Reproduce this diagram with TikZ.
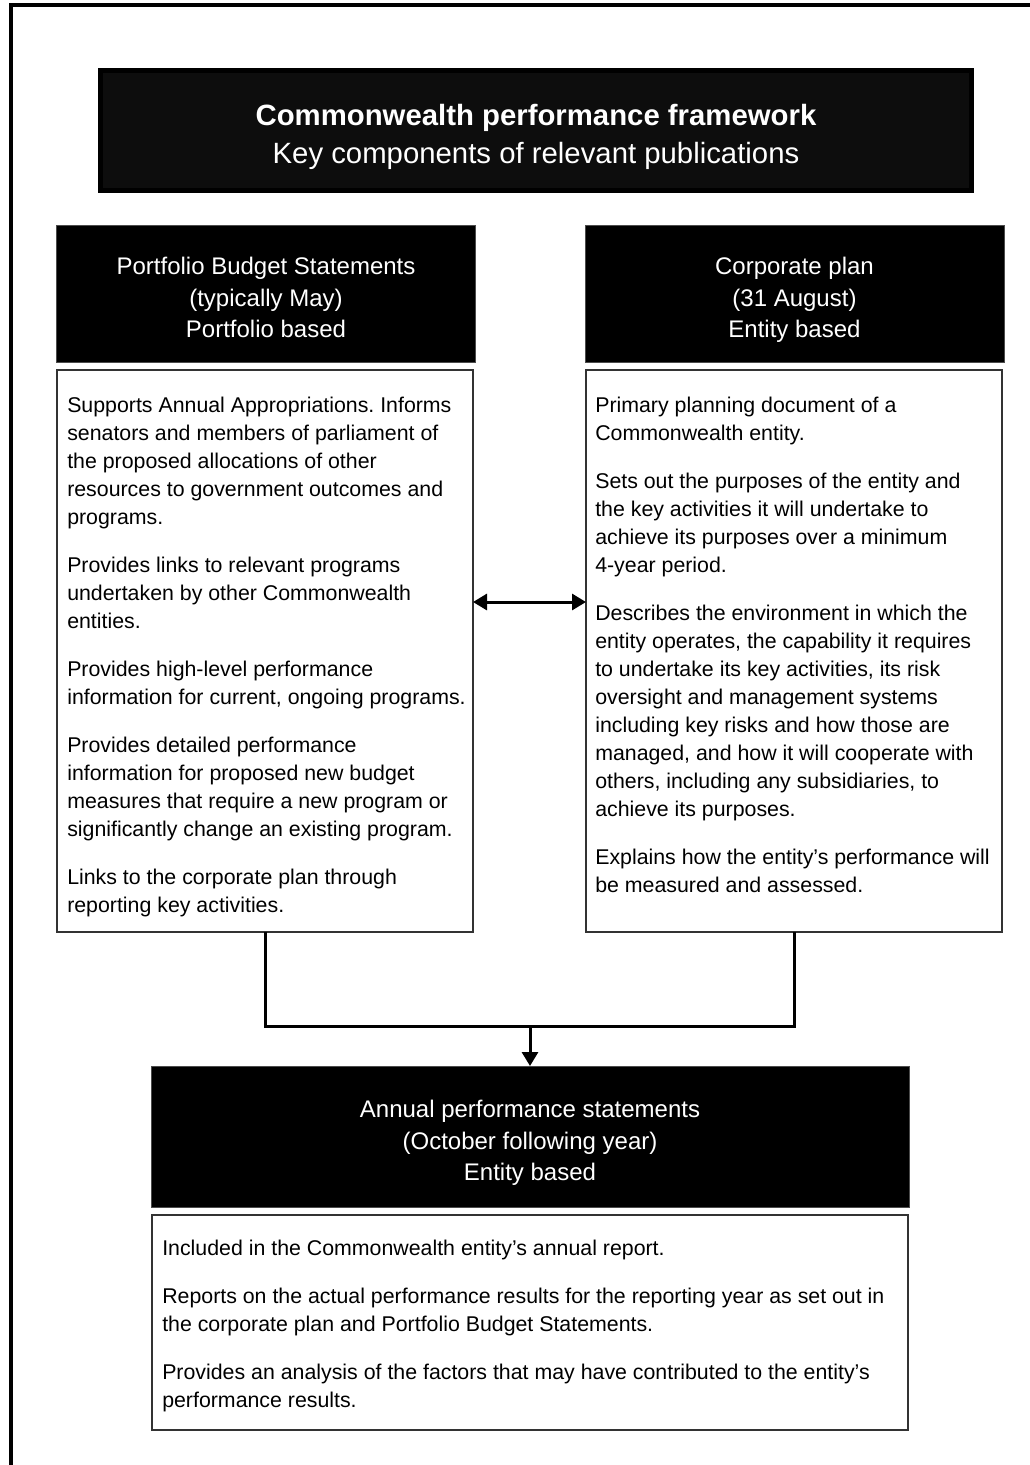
\documentclass[tikz,border=0pt]{standalone}
\usepackage{fontspec}
\setmainfont{Liberation Sans}
\usetikzlibrary{arrows.meta,fit,calc}
\frenchspacing
\begin{document}
\begin{tikzpicture}[x=0.75pt,y=-0.75pt,
  hdr/.style={fill=black, draw=black!70, line width=0.75pt, inner sep=0pt, outer sep=0pt},
  bodybox/.style={draw=black!80, line width=1pt, fill=white, inner sep=0pt, outer sep=0pt},
  hdrtext/.style={text=white, align=center, inner sep=0pt, anchor=north, font=\fontsize{18}{23.6}\selectfont},
  bodytext/.style={align=left, inner sep=0pt, anchor=north west, font=\fontsize{16}{21}\selectfont},
  conn/.style={line width=2.25pt},
  tri/.tip={Triangle[length=10.5pt,width=12pt]}
]
\useasboundingbox (0,0) rectangle (1030,1465);
\fill[white] (0,0) rectangle (1030,1465);
% outer frame
\draw[line width=3pt] (1030,5) -- (11,5) -- (11,1465);

% title box
\node[fit={(100.5,70.5) (971.5,190.5)}, fill=black!95, draw=black, line width=3.75pt, inner sep=0pt, outer sep=0pt] (title) {};
\node[text=white, align=center, inner sep=0pt, anchor=north, font=\fontsize{22}{28.5}\selectfont] (titletext) at (536,104)
  {{\bfseries Commonwealth performance framework}\\Key components of relevant publications};

% left column
\node[hdr, fit={(56,225) (475,362)}] (hL) {};
\node[hdrtext] (hLtext) at (266,257) {Portfolio Budget Statements\\(typically May)\\Portfolio based};
\node[bodybox, fit={(57,370) (473,932)}] (lbody) {};
\node[bodytext] (lbodytext) at (67,397) {%
Supports Annual Appropriations. Informs\\
senators and members of parliament of\\
the proposed allocations of other\\
resources to government outcomes and\\
programs.\\[15pt]
Provides links to relevant programs\\
undertaken by other Commonwealth\\
entities.\\[15pt]
Provides high-level performance\\
information for current, ongoing programs.\\[15pt]
Provides detailed performance\\
information for proposed new budget\\
measures that require a new program or\\
significantly change an existing program.\\[15pt]
Links to the corporate plan through\\
reporting key activities.};

% right column
\node[hdr, fit={(585,225) (1004,362)}] (hR) {};
\node[hdrtext] (hRtext) at (794.5,257) {Corporate plan\\(31 August)\\Entity based};
\node[bodybox, fit={(586,370) (1002,932)}] (rbody) {};
\node[bodytext] (rbodytext) at (595,397) {%
Primary planning document of a\\
Commonwealth entity.\\[15pt]
Sets out the purposes of the entity and\\
the key activities it will undertake to\\
achieve its purposes over a minimum\\
4-year period.\\[15pt]
Describes the environment in which the\\
entity operates, the capability it requires\\
to undertake its key activities, its risk\\
oversight and management systems\\
including key risks and how those are\\
managed, and how it will cooperate with\\
others, including any subsidiaries, to\\
achieve its purposes.\\[15pt]
Explains how the entity’s performance will\\
be measured and assessed.};

% bottom
\node[hdr, fit={(151,1066) (909,1207)}] (hB) {};
\node[hdrtext] (hBtext) at (530,1100) {Annual performance statements\\(October following year)\\Entity based};
\node[bodybox, fit={(152,1215) (908,1430)}] (bbody) {};
\node[bodytext] (bbodytext) at (162,1240) {%
Included in the Commonwealth entity’s annual report.\\[15pt]
Reports on the actual performance results for the reporting year as set out in\\
the corporate plan and Portfolio Budget Statements.\\[15pt]
Provides an analysis of the factors that may have contributed to the entity’s\\
performance results.};

% connectors
\coordinate (ay) at (530,602);
\coordinate (join) at (530,1026);
\draw[conn, tri-tri] (lbody.east |- ay) -- (rbody.west |- ay);
\draw[conn] (lbody.south) |- (join) -| (rbody.south);
\draw[conn, -tri] (join) -- (hB.north);
\end{tikzpicture}
\end{document}
